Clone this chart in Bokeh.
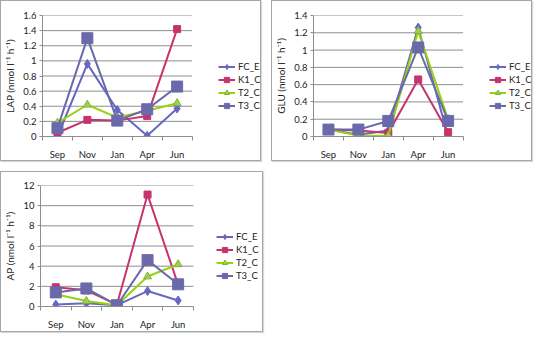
from bokeh.plotting import figure
from bokeh.models import Range1d, FixedTicker, NumeralTickFormatter, Legend, LegendItem
from bokeh.layouts import column, row
from bokeh.embed import file_html
from bokeh.resources import INLINE

months = ["Sep", "Nov", "Jan", "Apr", "Jun"]
series = ["FC_E", "K1_C", "T2_C", "T3_C"]

lap_fc_e = [0.0, 0.96, 0.35, 0.01, 0.37]
lap_k1_c = [0.05, 0.22, 0.21, 0.27, 1.42]
lap_t2_c = [0.18, 0.42, 0.25, 0.34, 0.44]
lap_t3_c = [0.11, 1.30, 0.21, 0.36, 0.66]

glu_fc_e = [0.08, 0.02, 0.07, 1.26, 0.0]
glu_k1_c = [0.08, 0.07, 0.04, 0.66, 0.05]
glu_t2_c = [0.08, 0.01, 0.01, 1.22, 0.20]
glu_t3_c = [0.08, 0.08, 0.18, 1.03, 0.18]

ap_fc_e = [0.19, 0.32, 0.13, 1.53, 0.60]
ap_k1_c = [1.91, 1.60, 0.19, 11.1, 2.17]
ap_t2_c = [1.21, 0.54, 0.13, 2.97, 4.18]
ap_t3_c = [1.40, 1.79, 0.13, 4.60, 2.20]

lap_ticks = [0, 0.2, 0.4, 0.6, 0.8, 1.0, 1.2, 1.4, 1.6]
glu_ticks = [0, 0.2, 0.4, 0.6, 0.8, 1.0, 1.2, 1.4]
ap_ticks = [0, 2, 4, 6, 8, 10, 12]

FONT = "Lato"
GRID = "#8e8e8e"
AXIS = "#8e8e8e"
TEXT = "#222222"

styles = {
    "FC_E": dict(color="#6767c2", marker="diamond", size=9, fill="#6767c2", mline="#6767c2"),
    "K1_C": dict(color="#c6336f", marker="square", size=7, fill="#c6336f", mline="#c6336f"),
    "T2_C": dict(color="#97d20c", marker="triangle", size=8, fill="#9fcf5a", mline="#7fb52a"),
    "T3_C": dict(color="#6a6aab", marker="square", size=11, fill="#6a6aab", mline="#6a6aab"),
}


def make_panel(ylabel, ticks, values, w, h, left, top, bottom, plot_w, legend_x, legend_bottom):
    n = len(months)
    xs = [i + 0.5 for i in range(n)]
    right = 2
    frame_w = w - left - right
    x_end = n * frame_w / plot_w  # data area occupies plot_w px, legend sits to its right
    p = figure(width=w, height=h, output_backend="svg", toolbar_location=None,
               x_range=Range1d(0, x_end), y_range=Range1d(0, ticks[-1]),
               min_border_left=left, min_border_top=top, min_border_bottom=bottom,
               min_border_right=right)
    p.styles = {"border": "1px solid #a6a6a6", "box-shadow": "1px 1px 1px #d8d8d8"}
    p.outline_line_color = None
    p.background_fill_color = "white"
    p.border_fill_color = "white"
    p.xgrid.visible = False
    p.ygrid.visible = False
    # horizontal gridlines limited to the data area
    p.segment(x0=[0] * len(ticks), x1=[n] * len(ticks), y0=ticks, y1=ticks,
              line_color=GRID, line_width=1, level="underlay")

    xa = p.xaxis[0]
    xa.bounds = (0, n)
    xa.ticker = FixedTicker(ticks=xs, minor_ticks=list(range(n + 1)))
    xa.major_label_overrides = {x: m for x, m in zip(xs, months)}
    xa.major_tick_line_color = None
    xa.minor_tick_out = 4
    xa.minor_tick_in = 0
    xa.minor_tick_line_color = AXIS
    xa.axis_line_color = AXIS
    xa.major_label_standoff = 6
    xa.major_label_text_font = FONT
    xa.major_label_text_font_size = "9.5px"
    xa.major_label_text_color = TEXT

    ya = p.yaxis[0]
    ya.ticker = FixedTicker(ticks=ticks)
    ya.formatter = NumeralTickFormatter(format="0.[0]")
    ya.minor_tick_line_color = None
    ya.major_tick_out = 3
    ya.major_tick_in = 0
    ya.major_tick_line_color = AXIS
    ya.axis_line_color = AXIS
    ya.major_label_standoff = 3
    ya.major_label_text_font = FONT
    ya.major_label_text_font_size = "9.5px"
    ya.major_label_text_color = TEXT
    ya.axis_label = ylabel
    ya.axis_label_text_font = FONT
    ya.axis_label_text_font_style = "normal"
    ya.axis_label_text_font_size = "10px"
    ya.axis_label_text_color = TEXT
    ya.axis_label_standoff = 4

    items = []
    for name, vals in zip(series, values):
        s = styles[name]
        lr = p.line(xs, vals, line_color=s["color"], line_width=2)
        sr = p.scatter(xs, vals, marker=s["marker"], size=s["size"],
                       fill_color=s["fill"], line_color=s["mline"], line_width=1)
        items.append(LegendItem(label=name, renderers=[lr, sr]))

    legend = Legend(items=items, location=(legend_x, legend_bottom))
    legend.border_line_color = None
    legend.background_fill_alpha = 0
    legend.padding = 0
    legend.margin = 0
    legend.spacing = 0
    legend.label_height = 13
    legend.glyph_height = 13
    legend.glyph_width = 17
    legend.label_standoff = 3
    legend.label_text_font = FONT
    legend.label_text_font_size = "9.5px"
    legend.label_text_color = TEXT
    p.add_layout(legend, "center")
    return p


p1 = make_panel("LAP (nmol l\u207b\u00b9 h\u207b\u00b9)", lap_ticks,
                [lap_fc_e, lap_k1_c, lap_t2_c, lap_t3_c],
                261, 161, 36, 14, 26, 153, 176, 24)
p2 = make_panel("GLU (nmol l\u207b\u00b9 h\u207b\u00b9)", glu_ticks,
                [glu_fc_e, glu_k1_c, glu_t2_c, glu_t3_c],
                261, 161, 36, 14, 26, 153, 176, 24)
p3 = make_panel("AP (nmol l\u207b\u00b9 h\u207b\u00b9)", ap_ticks,
                [ap_fc_e, ap_k1_c, ap_t2_c, ap_t3_c],
                263, 161, 36, 13, 27, 155, 176, 24)

top_row = row(p1, p2, spacing=10)
layout = column(top_row, p3, spacing=10)

open("out.html", "w").write(file_html(layout, INLINE))
